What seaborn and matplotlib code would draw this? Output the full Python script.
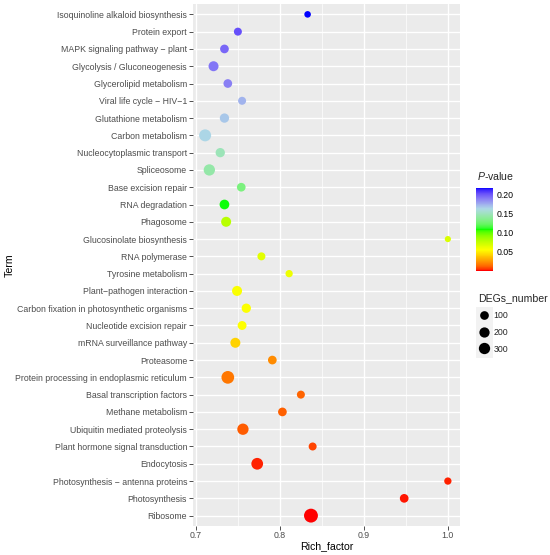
import numpy as np
import pandas as pd
import matplotlib
matplotlib.use("Agg")
import matplotlib.pyplot as plt
from matplotlib.colors import ListedColormap, Normalize, to_rgb
from matplotlib.cm import ScalarMappable
from matplotlib.lines import Line2D
from matplotlib.patches import Rectangle
import seaborn as sns

# --- data (top row first) ---
terms = [
    "Isoquinoline alkaloid biosynthesis",
    "Protein export",
    "MAPK signaling pathway \u2212 plant",
    "Glycolysis / Gluconeogenesis",
    "Glycerolipid metabolism",
    "Viral life cycle \u2212 HIV\u22121",
    "Glutathione metabolism",
    "Carbon metabolism",
    "Nucleocytoplasmic transport",
    "Spliceosome",
    "Base excision repair",
    "RNA degradation",
    "Phagosome",
    "Glucosinolate biosynthesis",
    "RNA polymerase",
    "Tyrosine metabolism",
    "Plant\u2212pathogen interaction",
    "Carbon fixation in photosynthetic organisms",
    "Nucleotide excision repair",
    "mRNA surveillance pathway",
    "Proteasome",
    "Protein processing in endoplasmic reticulum",
    "Basal transcription factors",
    "Methane metabolism",
    "Ubiquitin mediated proteolysis",
    "Plant hormone signal transduction",
    "Endocytosis",
    "Photosynthesis \u2212 antenna proteins",
    "Photosynthesis",
    "Ribosome",
]
rich_factor = [
    0.833, 0.750, 0.734, 0.721, 0.738, 0.755, 0.734, 0.711, 0.729, 0.716,
    0.754, 0.734, 0.736, 1.000, 0.778, 0.811, 0.749, 0.760, 0.755, 0.747,
    0.791, 0.738, 0.825, 0.803, 0.756, 0.839, 0.773, 1.000, 0.948, 0.837,
]
p_value = [
    0.2176, 0.2024, 0.1959, 0.1916, 0.1894, 0.1742, 0.1677, 0.1634, 0.1482, 0.1439,
    0.1309, 0.1092, 0.0788, 0.0680, 0.0658, 0.0615, 0.0572, 0.0561, 0.0550, 0.0420,
    0.0225, 0.0171, 0.0127, 0.0121, 0.0112, 0.0073, 0.0030, 0.0025, 0.0017, 0.0008,
]
degs_number = [
    30, 70, 100, 180, 100, 70, 133, 384, 133, 300,
    100, 160, 180, 22, 70, 47, 180, 133, 110, 180,
    100, 485, 70, 100, 300, 70, 350, 47, 100, 700,
]
legend_sizes = [100, 200, 300]
cbar_ticks = [0.05, 0.10, 0.15, 0.20]

df = pd.DataFrame({"Term": terms, "Rich_factor": rich_factor,
                   "P_value": p_value, "DEGs_number": degs_number})
df["DEGs_sqrt"] = np.sqrt(df["DEGs_number"])

# --- ggplot-like gradient (interpolated in Lab space) ---
M = np.array([[0.4124, 0.3576, 0.1805], [0.2126, 0.7152, 0.0722], [0.0193, 0.1192, 0.9505]])
WHITE = np.array([0.95047, 1.0, 1.08883])


def to_lab(rgb):
    rgb = np.asarray(rgb, float)
    lin = np.where(rgb <= 0.04045, rgb / 12.92, ((rgb + 0.055) / 1.055) ** 2.4)
    xyz = lin @ M.T / WHITE
    f = np.where(xyz > 0.008856, np.cbrt(xyz), 7.787 * xyz + 16 / 116)
    return np.stack([116 * f[..., 1] - 16, 500 * (f[..., 0] - f[..., 1]),
                     200 * (f[..., 1] - f[..., 2])], -1)


def from_lab(lab):
    fy = (lab[..., 0] + 16) / 116
    f = np.stack([fy + lab[..., 1] / 500, fy, fy - lab[..., 2] / 200], -1)
    xyz = np.where(f ** 3 > 0.008856, f ** 3, (f - 16 / 116) / 7.787) * WHITE
    lin = np.clip(xyz @ np.linalg.inv(M).T, 0, None)
    rgb = np.where(lin <= 0.0031308, 12.92 * lin, 1.055 * lin ** (1 / 2.4) - 0.055)
    return np.clip(rgb, 0, 1)


stops = to_lab([to_rgb(c) for c in ["red", "yellow", "#00FF00", "lightblue", "blue"]])
pos = np.linspace(0, 1, len(stops))
grid = np.linspace(0, 1, 256)
lab = np.stack([np.interp(grid, pos, stops[:, k]) for k in range(3)], -1)
cmap = ListedColormap(from_lab(lab))

# --- theme ---
sns.set_theme(style="darkgrid", rc={"axes.facecolor": "#EBEBEB", "grid.color": "white"})
plt.rcParams["font.family"] = ["Liberation Sans", "DejaVu Sans"]
plt.rcParams["mathtext.fontset"] = "custom"
plt.rcParams["mathtext.it"] = "Liberation Sans:italic"
plt.rcParams["mathtext.rm"] = "Liberation Sans"

fig = plt.figure(figsize=(5.5, 5.55), dpi=100)
W, H = 550, 555
ax = fig.add_axes([193 / W, 1 - 526 / H, 267 / W, 522 / H])

pnorm = (min(p_value), max(p_value))
size_range = (2.3, 2.3 + 3.69 * 30)
sns.scatterplot(data=df, x="Rich_factor", y="Term", hue="P_value", size="DEGs_sqrt",
                palette=cmap, hue_norm=pnorm, sizes=size_range, size_norm=(0, 30),
                linewidth=0, legend=False, ax=ax, zorder=3)

# axes styling
span = max(rich_factor) - min(rich_factor)
ax.set_xlim(min(rich_factor) - 0.05 * span, max(rich_factor) + 0.05 * span)
ax.set_ylim(len(terms) - 0.4, -0.6)
ax.set_xticks([0.7, 0.8, 0.9, 1.0])
ax.set_xticklabels(["0.7", "0.8", "0.9", "1.0"])
ax.set_xticks([0.75, 0.85, 0.95], minor=True)
ax.grid(which="major", color="white", linewidth=1.0)
ax.grid(which="minor", axis="x", color="white", linewidth=0.5)
ax.tick_params(which="major", length=2.7, width=0.6, color="#333333", pad=1.6,
               labelsize=6.3, labelcolor="#4D4D4D", left=True, bottom=True)
ax.tick_params(axis="x", which="major", pad=1.0)
ax.tick_params(which="minor", length=0)
for s in ax.spines.values():
    s.set_visible(False)
ax.set_xlabel("Rich_factor", fontsize=7.6, color="black", labelpad=1)
ax.set_ylabel("Term", fontsize=7.6, color="black", labelpad=0.5)

# colour bar
cax = fig.add_axes([476 / W, 1 - 270.7 / H, 16.6 / W, 82.7 / H])
cb = fig.colorbar(ScalarMappable(norm=Normalize(*pnorm), cmap=cmap), cax=cax)
cb.outline.set_visible(False)
cb.set_ticks(cbar_ticks)
cb.set_ticklabels(["0.05", "0.10", "0.15", "0.20"])
cax.tick_params(direction="in", color="white", length=3, width=0.6, left=True, right=True,
                labelsize=6.3, labelcolor="black", pad=3)
fig.text(477 / W, 1 - 176 / H, "$P$-value", fontsize=7.6, va="center", ha="left")

# size legend
def marker_ms(v):
    area = size_range[0] + (size_range[1] - size_range[0]) * np.sqrt(v) / 30
    return np.sqrt(area)

handles = [Line2D([], [], marker="o", ls="", color="black", markeredgewidth=0,
                  markersize=marker_ms(v)) for v in legend_sizes]
fig.patches.append(Rectangle((476 / W, 1 - 358 / H), 17 / W, 51 / H,
                             transform=fig.transFigure, facecolor="#F2F2F2",
                             edgecolor="none", zorder=1))
leg = fig.legend(handles, [str(v) for v in legend_sizes], title="DEGs_number",
                 loc="upper left", bbox_to_anchor=(474 / W, 1 - 288.5 / H),
                 frameon=False, fontsize=6.3, title_fontsize=7.6, handlelength=1.2,
                 handletextpad=0.5, labelspacing=0.9, borderpad=0, alignment="left")

fig.savefig("out.png", dpi=100)
